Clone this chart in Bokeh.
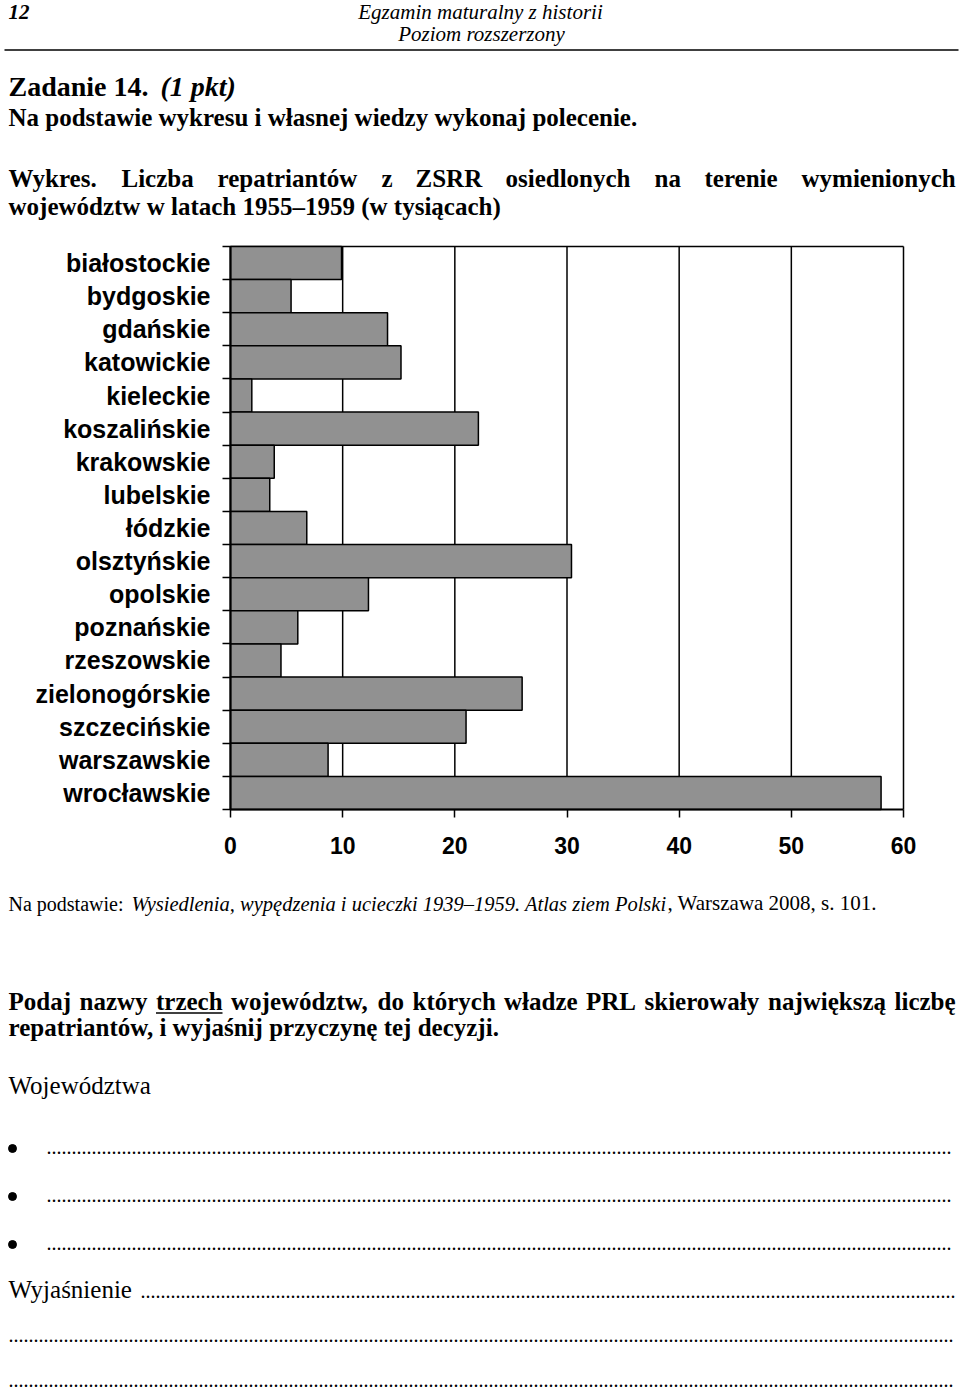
from bokeh.plotting import figure
from bokeh.models import Range1d, FixedTicker, LinearAxis
from bokeh.core.properties import value
from bokeh.embed import file_html
from bokeh.resources import INLINE

# ---------------- data ----------------
categories = ["białostockie", "bydgoskie", "gdańskie", "katowickie", "kieleckie",
              "koszalińskie", "krakowskie", "lubelskie", "łódzkie", "olsztyńskie",
              "opolskie", "poznańskie", "rzeszowskie", "zielonogórskie",
              "szczecińskie", "warszawskie", "wrocławskie"]
values = [9.9, 5.4, 14.0, 15.2, 1.9, 22.1, 3.9, 3.5, 6.8, 30.4,
          12.3, 6.0, 4.5, 26.0, 21.0, 8.7, 58.0]
x_ticks = [0, 10, 20, 30, 40, 50, 60]

SERIF = "Liberation Serif"
SANS = "Liberation Sans"
W, H = 960, 1390

# chart box on the page (pixels)
L, R, T, B = 230, 903, 246, 809
n = len(categories)
pos = list(range(n))
xmin, xmax = x_ticks[0], x_ticks[-1]
ppu = (R - L) / (xmax - xmin)
band = (B - T) / n
vx = Range1d(xmin - L / ppu, xmax + (W - R) / ppu)
cy = Range1d((n - 0.5) + (H - B) / band, -0.5 - T / band)

p = figure(width=W, height=H, x_range=Range1d(0, W), y_range=Range1d(H, 0),
           x_axis_type=None, y_axis_type=None, output_backend="svg",
           toolbar_location=None, min_border=0)
p.extra_x_ranges = {"v": vx}
p.extra_y_ranges = {"c": cy}
p.outline_line_color = None
p.background_fill_color = "white"
p.border_fill_color = "white"

# vertical grid lines and top border of the plot area
p.segment(x0=x_ticks, y0=[-0.5] * len(x_ticks), x1=x_ticks, y1=[n - 0.5] * len(x_ticks),
          x_range_name="v", y_range_name="c", line_color="black", line_width=1.5)
p.segment(x0=[xmin], y0=[-0.5], x1=[xmax], y1=[-0.5],
          x_range_name="v", y_range_name="c", line_color="black", line_width=1.5)

# bars
p.hbar(y=pos, left=0, right=values, height=1.0, fill_color="#919191",
       line_color="black", line_width=1.5, x_range_name="v", y_range_name="c")

# axes placed at the plot area edges
xa = LinearAxis(x_range_name="v", y_range_name="c", fixed_location=n - 0.5,
                bounds=(xmin, xmax), ticker=FixedTicker(ticks=x_ticks))
xa.axis_line_width = 2
xa.axis_line_color = "black"
xa.major_tick_out = 8
xa.major_tick_in = 0
xa.major_tick_line_width = 1.5
xa.major_tick_line_color = "black"
xa.minor_tick_line_color = None
xa.major_label_text_font = SANS
xa.major_label_text_font_style = "bold"
xa.major_label_text_font_size = "23px"
xa.major_label_text_color = "black"
xa.major_label_standoff = 19
p.add_layout(xa, "below")

ya = LinearAxis(x_range_name="v", y_range_name="c", fixed_location=xmin,
                bounds=(-0.5, n - 0.5),
                ticker=FixedTicker(ticks=pos, minor_ticks=[i - 0.5 for i in range(n + 1)]))
ya.major_label_overrides = {i: c for i, c in enumerate(categories)}
ya.axis_line_width = 2
ya.axis_line_color = "black"
ya.major_tick_out = 0
ya.major_tick_in = 0
ya.major_tick_line_color = None
ya.minor_tick_out = 8
ya.minor_tick_in = 0
ya.minor_tick_line_color = "black"
ya.minor_tick_line_width = 1.5
ya.major_label_text_font = SANS
ya.major_label_text_font_style = "bold"
ya.major_label_text_font_size = "25px"
ya.major_label_text_color = "black"
ya.major_label_standoff = 12
p.add_layout(ya, "left")


def txt(x, base, s, size, style="normal", align="left", font=SERIF):
    # base = baseline on the page; text is anchored at the middle of its em box
    y = base - 0.3375 * size
    p.text(x=[x], y=[y], text=[s], text_font=value(font), text_font_size=value(f"{size}px"),
           text_font_style=value(style), text_align=value(align),
           text_baseline=value("middle"), text_color="black")


def rule(x0, x1, y, th=1.5):
    p.segment(x0=[x0], y0=[y], x1=[x1], y1=[y], line_color="black", line_width=th)


def dots(x0, x1, base):
    k = int((x1 - x0) / 5)
    txt(x0, base, "." * k, 20)


# ---------------- header ----------------
txt(8, 18.5, "12", 21, "bold italic")
txt(480, 18.5, "Egzamin maturalny z historii", 21, "italic", "center")
txt(481, 40.5, "Poziom rozszerzony", 21, "italic", "center")
rule(4, 958, 49.5)
txt(8, 95.5, "Zadanie 14.", 28, "bold")
txt(160, 95.5, "(1 pkt)", 28, "bold italic")
txt(8, 125, "Na podstawie wykresu i własnej wiedzy wykonaj polecenie.", 25, "bold")
line1 = [("Wykres.", 8), ("Liczba", 121), ("repatriantów", 217), ("z", 381),
         ("ZSRR", 415), ("osiedlonych", 505), ("na", 654), ("terenie", 704),
         ("wymienionych", 801)]
for w_, x_ in line1:
    txt(x_, 186.5, w_, 25, "bold")
txt(8, 214.5, "województw w latach 1955–1959 (w tysiącach)", 25, "bold")

# ---------------- footer ----------------
txt(8, 910, "Na podstawie:", 20)
txt(131, 910, "Wysiedlenia, wypędzenia i ucieczki 1939–1959. Atlas ziem Polski", 20.5, "italic")
txt(667, 910, ", Warszawa 2008, s. 101.", 21)

line2 = [("Podaj", 8), ("nazwy", 79), ("trzech", 155.5), ("województw,", 230.5),
         ("do", 377), ("których", 412), ("władze", 503.5), ("PRL", 585.5),
         ("skierowały", 644), ("największą", 767.5), ("liczbę", 894)]
for w_, x_ in line2:
    txt(x_, 1009, w_, 25, "bold")
rule(155.5, 222, 1012.5)
txt(8, 1035, "repatriantów, i wyjaśnij przyczynę tej decyzji.", 25, "bold")
txt(8, 1093, "Województwa", 25)
for yb in [1153, 1201, 1249]:
    p.scatter(x=[12], y=[yb - 5], size=8, marker="circle", color="black")
    dots(46, 955, yb)
txt(8, 1297, "Wyjaśnienie", 25)
dots(140, 955, 1297)
dots(8, 955, 1341)
dots(8, 955, 1386)

open("out.html", "w").write(file_html(p, INLINE))
